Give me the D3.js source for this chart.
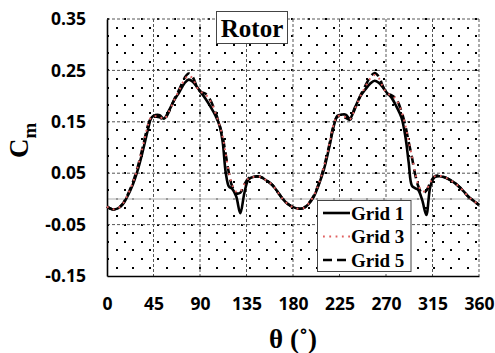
<!DOCTYPE html>
<html>
<head>
<meta charset="utf-8">
<script src="https://cdn.jsdelivr.net/npm/d3@7"></script>
<style>
  body { margin: 0; background: #fff; }
  svg { display: block; }
</style>
</head>
<body>
<svg></svg>
<script>
let SVG = d3.select('svg').attr('width', 495).attr('height', 353);

// --- data
const THETA = [
  0, 5, 10, 15, 20, 25, 30, 35, 40, 43, 47, 51, 55, 60, 65, 70, 75, 79, 83, 87,
  91, 95, 100, 105, 109, 112, 115, 118, 121, 125, 129, 133, 137, 142, 148, 155,
  160, 165, 170, 175, 180,
  185, 190, 195, 200, 205, 210, 215, 220, 223, 227, 231, 235, 240, 245, 250, 255,
  259, 263, 267, 271, 275, 280, 285, 289, 292, 295, 298, 301, 305, 309, 313, 317,
  322, 328, 335, 340, 345, 350, 355, 360
];

const GRID_1 = [
  -0.015, -0.020, -0.019, -0.011, 0.006, 0.028, 0.058, 0.096, 0.138, 0.158, 0.163,
  0.163, 0.156, 0.172, 0.192, 0.208, 0.225, 0.232, 0.228, 0.218, 0.207, 0.196,
  0.180, 0.162, 0.142, 0.110, 0.050, 0.024, 0.020, 0.005, -0.028, 0.012, 0.038,
  0.043, 0.043, 0.035, 0.027, 0.014, 0.000, -0.010, -0.016,
  -0.019, -0.018, -0.010, 0.004, 0.028, 0.058, 0.100, 0.146, 0.162, 0.164, 0.164,
  0.156, 0.178, 0.199, 0.213, 0.225, 0.230, 0.226, 0.217, 0.206, 0.198, 0.180,
  0.158, 0.118, 0.070, 0.026, 0.021, 0.018, -0.002, -0.031, 0.025, 0.042, 0.044,
  0.041, 0.033, 0.025, 0.015, 0.004, -0.004, -0.012
];

const GRID_3 = [
  -0.015, -0.020, -0.019, -0.010, 0.008, 0.032, 0.065, 0.105, 0.146, 0.159, 0.161,
  0.160, 0.155, 0.170, 0.192, 0.212, 0.232, 0.240, 0.234, 0.217, 0.208, 0.204,
  0.191, 0.167, 0.143, 0.120, 0.086, 0.052, 0.028, 0.014, 0.015, 0.029, 0.040,
  0.043, 0.043, 0.035, 0.027, 0.014, 0.000, -0.010, -0.016,
  -0.019, -0.018, -0.009, 0.006, 0.030, 0.063, 0.105, 0.149, 0.161, 0.161, 0.159,
  0.155, 0.175, 0.199, 0.218, 0.235, 0.241, 0.235, 0.218, 0.205, 0.202, 0.193,
  0.170, 0.141, 0.112, 0.084, 0.053, 0.029, 0.014, 0.018, 0.033, 0.044, 0.045,
  0.041, 0.033, 0.025, 0.015, 0.004, -0.004, -0.012
];

const GRID_5 = [
  -0.015, -0.020, -0.019, -0.010, 0.008, 0.032, 0.064, 0.104, 0.145, 0.158, 0.160,
  0.159, 0.154, 0.170, 0.193, 0.213, 0.235, 0.244, 0.237, 0.218, 0.208, 0.205,
  0.192, 0.168, 0.143, 0.120, 0.085, 0.050, 0.025, 0.011, 0.012, 0.028, 0.040,
  0.043, 0.043, 0.035, 0.027, 0.014, 0.000, -0.010, -0.016,
  -0.019, -0.018, -0.009, 0.006, 0.030, 0.062, 0.104, 0.148, 0.160, 0.160, 0.158,
  0.154, 0.176, 0.200, 0.220, 0.238, 0.245, 0.238, 0.219, 0.205, 0.202, 0.194,
  0.170, 0.140, 0.110, 0.082, 0.050, 0.026, 0.011, 0.016, 0.032, 0.044, 0.045,
  0.041, 0.033, 0.025, 0.015, 0.004, -0.004, -0.012
];

const X_TICKS = [0, 45, 90, 135, 180, 225, 270, 315, 360];
const Y_TICKS = [-0.15, -0.05, 0.05, 0.15, 0.25, 0.35];
const SERIES_NAMES = ['Grid 1', 'Grid 3', 'Grid 5'];

// --- layout
const LEFT = 107, RIGHT = 479, TOP = 19, BOTTOM = 276;

let xScale = d3.scaleLinear().domain([0, 360]).range([LEFT, RIGHT]);
let yScale = d3.scaleLinear().domain([-0.15, 0.35]).range([BOTTOM, TOP]);

// dotted background (staggered, like a 5% pattern fill)
let dotRows = d3.range(TOP, BOTTOM - 2, 8.57);
let dotPos = [];
dotRows.forEach((r, i) => {
  d3.range(LEFT + 1.3 + (i % 2) * 8.36, RIGHT - 2, 16.72)
    .forEach(c => dotPos.push([Math.round(c), Math.round(r)]));
});
SVG.append('g').attr('id', 'dotsG')
  .attr('shape-rendering', 'crispEdges')
  .selectAll('rect')
  .data(dotPos)
  .join('rect')
  .attr('x', d => d[0] - 1).attr('y', d => d[1] - 1)
  .attr('width', 2).attr('height', 2)
  .attr('fill', '#000');

// gridlines (dashed)
let gridG = SVG.append('g').attr('id', 'gridG');
gridG.selectAll('line.gx')
  .data(X_TICKS.slice(1))
  .join('line')
  .attr('class', 'gx')
  .attr('x1', d => xScale(d)).attr('x2', d => xScale(d))
  .attr('y1', TOP).attr('y2', BOTTOM);
gridG.selectAll('line.gy')
  .data(Y_TICKS.slice(1))
  .join('line')
  .attr('class', 'gy')
  .attr('x1', LEFT).attr('x2', RIGHT)
  .attr('y1', d => yScale(d)).attr('y2', d => yScale(d));
gridG.selectAll('line')
  .attr('stroke', '#555')
  .attr('stroke-width', 1)
  .attr('stroke-dasharray', '3,2');

// zero line
SVG.append('line')
  .attr('x1', LEFT).attr('x2', RIGHT)
  .attr('y1', yScale(0)).attr('y2', yScale(0))
  .attr('stroke', '#c8c8c8').attr('stroke-width', 1.5);

// axes: solid left + bottom, no tick marks
let yAxisG = SVG.append('g').attr('id', 'yAxisG').attr('transform', `translate(${LEFT},0)`);
d3.axisLeft(yScale).tickValues(Y_TICKS).tickSize(0).tickPadding(21)
  .tickFormat(d3.format('.2f'))(yAxisG);
let xAxisG = SVG.append('g').attr('id', 'xAxisG').attr('transform', `translate(0,${BOTTOM})`);
d3.axisBottom(xScale).tickValues(X_TICKS).tickSize(0).tickPadding(22)
  .tickFormat(d3.format('d'))(xAxisG);

[yAxisG, xAxisG].forEach(g => {
  g.select('.domain').attr('stroke', '#000').attr('stroke-width', 1.6);
  g.selectAll('text')
    .attr('font-family', '"Open Sans", sans-serif')
    .attr('font-weight', 'bold')
    .attr('font-size', 17.5)
    .attr('fill', '#000');
});
yAxisG.selectAll('text').text(d => d3.format('.2f')(d).replace('−', '-'));

// lines
let line = d3.line()
  .x((d, i) => xScale(THETA[i]))
  .y(d => yScale(d))
  .curve(d3.curveCatmullRom.alpha(0.5));

const STYLES = [
  { data: GRID_1, color: '#000', width: 2.6, dash: null },
  { data: GRID_5, color: '#000', width: 2.6, dash: '9,5' },
  { data: GRID_3, color: '#e06060', width: 2, dash: '1.8,4.5' }
];
SVG.append('g').attr('id', 'linesG')
  .selectAll('path')
  .data(STYLES)
  .join('path')
  .attr('d', d => line(d.data))
  .attr('fill', 'none')
  .attr('stroke', d => d.color)
  .attr('stroke-width', d => d.width)
  .attr('stroke-dasharray', d => d.dash);

// title box
let titleG = SVG.append('g').attr('id', 'titleG');
titleG.append('rect')
  .attr('x', 216.5).attr('y', 11.5).attr('width', 71).attr('height', 32)
  .attr('fill', '#fff').attr('stroke', '#444').attr('stroke-width', 1);
titleG.append('text')
  .attr('x', 252).attr('y', 37)
  .attr('text-anchor', 'middle')
  .attr('font-family', '"Liberation Serif", "Times New Roman", serif')
  .attr('font-weight', 'bold').attr('font-size', 25)
  .text('Rotor');

// legend
let legG = SVG.append('g').attr('id', 'legendG');
legG.append('rect')
  .attr('x', 317.5).attr('y', 200.5).attr('width', 93.5).attr('height', 71)
  .attr('fill', '#fff').attr('stroke', '#444').attr('stroke-width', 1);
const LEG_ORDER = [STYLES[0], STYLES[2], STYLES[1]];
LEG_ORDER.forEach((s, i) => {
  let y = 213 + i * 23.5;
  legG.append('line')
    .attr('x1', 323).attr('x2', 350)
    .attr('y1', y).attr('y2', y)
    .attr('stroke', s.color)
    .attr('stroke-width', s.width)
    .attr('stroke-dasharray', s.dash);
  legG.append('text')
    .attr('x', 351).attr('y', y + 6.5)
    .attr('font-family', '"Liberation Serif", "Times New Roman", serif')
    .attr('font-weight', 'bold').attr('font-size', 19)
    .text(SERIES_NAMES[i]);
});

// axis titles
let yLabel = SVG.append('text')
  .attr('transform', 'translate(28,158) rotate(-90)')
  .attr('font-family', '"Liberation Serif", "Times New Roman", serif')
  .attr('font-weight', 'bold').attr('font-size', 27);
yLabel.append('tspan').text('C');
yLabel.append('tspan').attr('font-size', 19).attr('dy', 8).text('m');

SVG.append('text')
  .attr('x', 293).attr('y', 348)
  .attr('text-anchor', 'middle')
  .attr('font-family', '"Liberation Serif", "Times New Roman", serif')
  .attr('font-weight', 'bold').attr('font-size', 27)
  .text('θ (˚)');
</script>
</body>
</html>
